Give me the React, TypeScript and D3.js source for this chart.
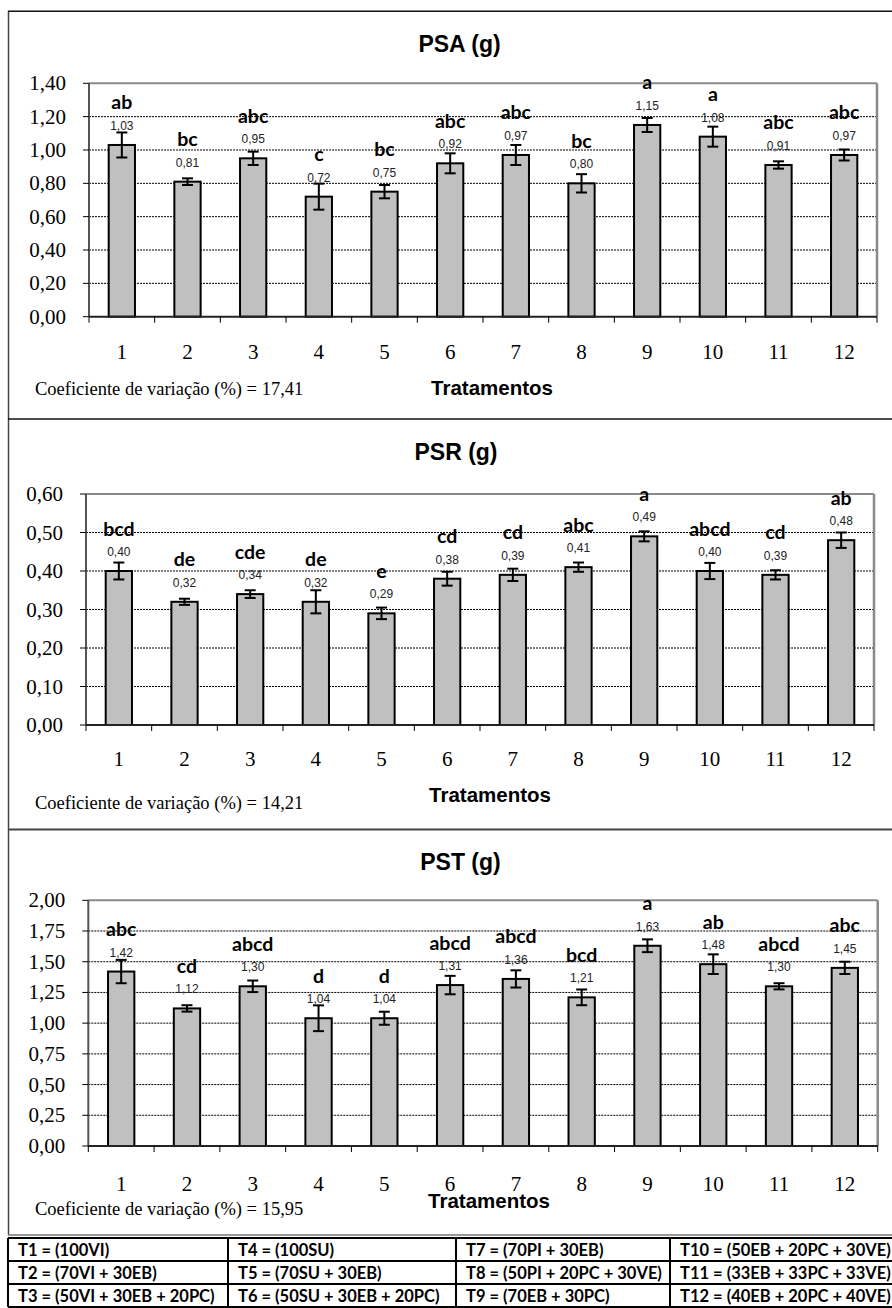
import React from "react";
import * as d3 from "d3";

const treatments = ["1", "2", "3", "4", "5", "6", "7", "8", "9", "10", "11", "12"];

const psaValues = [1.03, 0.81, 0.95, 0.72, 0.75, 0.92, 0.97, 0.8, 1.15, 1.08, 0.91, 0.97];
const psaErrors = [0.075, 0.02, 0.04, 0.078, 0.04, 0.06, 0.06, 0.055, 0.042, 0.06, 0.022, 0.033];
const psaLetters = ["ab", "bc", "abc", "c", "bc", "abc", "abc", "bc", "a", "a", "abc", "abc"];

const psrValues = [0.4, 0.32, 0.34, 0.32, 0.29, 0.38, 0.39, 0.41, 0.49, 0.4, 0.39, 0.48];
const psrErrors = [0.022, 0.008, 0.01, 0.03, 0.015, 0.018, 0.016, 0.012, 0.013, 0.021, 0.012, 0.02];
const psrLetters = ["bcd", "de", "cde", "de", "e", "cd", "cd", "abc", "a", "abcd", "cd", "ab"];

const pstValues = [1.42, 1.12, 1.3, 1.04, 1.04, 1.31, 1.36, 1.21, 1.63, 1.48, 1.3, 1.45];
const pstErrors = [0.095, 0.026, 0.047, 0.105, 0.053, 0.075, 0.07, 0.064, 0.052, 0.08, 0.025, 0.05];
const pstLetters = ["abc", "cd", "abcd", "d", "d", "abcd", "abcd", "bcd", "a", "ab", "abcd", "abc"];

const psaTicks = [0, 0.2, 0.4, 0.6, 0.8, 1.0, 1.2, 1.4];
const psrTicks = [0, 0.1, 0.2, 0.3, 0.4, 0.5, 0.6];
const pstTicks = [0, 0.25, 0.5, 0.75, 1.0, 1.25, 1.5, 1.75, 2.0];

const legendCol1 = ["T1 = (100VI)", "T2 = (70VI + 30EB)", "T3 = (50VI + 30EB + 20PC)"];
const legendCol2 = ["T4 = (100SU)", "T5 = (70SU + 30EB)", "T6 = (50SU + 30EB + 20PC)"];
const legendCol3 = ["T7 = (70PI + 30EB)", "T8 = (50PI + 20PC + 30VE)", "T9 = (70EB + 30PC)"];
const legendCol4 = ["T10 = (50EB + 20PC + 30VE)", "T11 = (33EB + 33PC + 33VE)", "T12 = (40EB + 20PC + 40VE)"];

const locale = d3.formatLocale({ decimal: ",", thousands: ".", grouping: [3], currency: ["", ""] });
const fmt2 = locale.format(".2f");

const SERIF = "'Liberation Serif', 'Times New Roman', serif";
const SANS = "'Liberation Sans', Arial, sans-serif";
const CALI = "Lato, 'Open Sans', sans-serif";

type PanelProps = {
  title: string;
  values: number[];
  errors: number[];
  letters: string[];
  ticks: number[];
  cv: string;
  left: number;
  right: number;
  top: number;
  bottom: number;
  titleY: number;
  titleX: number;
  xLabelY: number;
  axisTitleY: number;
  axisTitleX: number;
  cvY: number;
};

function Panel(p: PanelProps) {
  const x = d3.scaleBand<string>().domain(treatments).range([p.left, p.right]).paddingInner(0).paddingOuter(0);
  const yMax = p.ticks[p.ticks.length - 1];
  const y = d3.scaleLinear().domain([0, yMax]).range([p.bottom, p.top]);
  const bw = x.bandwidth() * 0.4;
  const boundaries = d3.range(treatments.length + 1).map((i) => p.left + i * x.bandwidth());
  return (
    <g>
      <text x={p.titleX} y={p.titleY} textAnchor="middle" fontFamily={SANS} fontWeight="bold" fontSize={23}>
        {p.title}
      </text>
      {p.ticks.slice(1, -1).map((t) => (
        <line key={"g" + t} x1={p.left} x2={p.right} y1={y(t)} y2={y(t)} stroke="#000" strokeWidth={1} strokeDasharray="2,1" />
      ))}
      <line x1={p.left} x2={p.right} y1={y(yMax)} y2={y(yMax)} stroke="#8a8a8a" strokeWidth={2} />
      <line x1={p.right} x2={p.right} y1={y(yMax)} y2={p.bottom} stroke="#8a8a8a" strokeWidth={2.5} />
      <line x1={p.left} x2={p.left} y1={y(yMax)} y2={p.bottom} stroke="#555" strokeWidth={2} />
      {p.ticks.map((t) => (
        <g key={"yt" + t}>
          <line x1={p.left - 6} x2={p.left} y1={y(t)} y2={y(t)} stroke="#000" strokeWidth={1} />
          <text x={p.left - 23} y={y(t) + 7} textAnchor="end" fontFamily={SERIF} fontSize={21}>
            {fmt2(t)}
          </text>
        </g>
      ))}
      {treatments.map((c, i) => {
        const cx = (x(c) as number) + x.bandwidth() / 2;
        const v = p.values[i];
        const e = p.errors[i];
        const valY = y(v) - 15;
        return (
          <g key={"b" + c}>
            <rect x={cx - bw / 2} y={y(v)} width={bw} height={p.bottom - y(v)} fill="#c0c0c0" stroke="#000" strokeWidth={2} />
            <line x1={cx} x2={cx} y1={y(v + e)} y2={y(v - e)} stroke="#000" strokeWidth={2} />
            <line x1={cx - 5.5} x2={cx + 5.5} y1={y(v + e)} y2={y(v + e)} stroke="#000" strokeWidth={2} />
            <line x1={cx - 5.5} x2={cx + 5.5} y1={y(v - e)} y2={y(v - e)} stroke="#000" strokeWidth={2} />
            <text x={cx} y={valY} textAnchor="middle" fontFamily={SANS} fontSize={12} fill="#222">
              {fmt2(v)}
            </text>
            <text x={cx} y={valY - 20.5} textAnchor="middle" fontFamily={CALI} fontWeight="bold" fontSize={19.5} fill="#000">
              {p.letters[i]}
            </text>
          </g>
        );
      })}
      <line x1={p.left} x2={p.right} y1={p.bottom} y2={p.bottom} stroke="#222" strokeWidth={2} />
      {boundaries.map((bx, i) => (
        <line key={"xt" + i} x1={bx} x2={bx} y1={p.bottom} y2={p.bottom + 6} stroke="#000" strokeWidth={1} />
      ))}
      {treatments.map((c) => (
        <text key={"xl" + c} x={(x(c) as number) + x.bandwidth() / 2} y={p.xLabelY} textAnchor="middle" fontFamily={SERIF} fontSize={21}>
          {c}
        </text>
      ))}
      <text x={p.axisTitleX} y={p.axisTitleY} textAnchor="middle" fontFamily={SANS} fontWeight="bold" fontSize={20.5}>
        Tratamentos
      </text>
      <text x={35} y={p.cvY} fontFamily={SERIF} fontSize={18.5}>
        {p.cv}
      </text>
    </g>
  );
}

export default function App() {
  const cols = [legendCol1, legendCol2, legendCol3, legendCol4];
  const colX = [8, 228, 456, 670, 900];
  const rowY = [1238, 1261, 1284, 1307];
  return (
    <div style={{ position: "absolute", left: 0, top: 0 }}>
      <svg width={892} height={1308} style={{ display: "block", background: "#fff" }}>
        <rect x={0} y={0} width={892} height={1308} fill="#fff" />
        <line x1={8.5} x2={8.5} y1={11} y2={1235} stroke="#444" strokeWidth={1.5} />
        <line x1={8} x2={900} y1={11.3} y2={11.3} stroke="#111" strokeWidth={1.5} />
        <line x1={8} x2={900} y1={419} y2={419} stroke="#111" strokeWidth={1.5} />
        <line x1={8} x2={900} y1={829.5} y2={829.5} stroke="#444" strokeWidth={2} />
        <line x1={8} x2={900} y1={1235} y2={1235} stroke="#777" strokeWidth={1.5} />

        <Panel
          title="PSA (g)"
          values={psaValues}
          errors={psaErrors}
          letters={psaLetters}
          ticks={psaTicks}
          cv="Coeficiente de variação (%) = 17,41"
          left={89}
          right={877}
          top={83.3}
          bottom={316.7}
          titleY={52}
          titleX={459.5}
          xLabelY={359}
          axisTitleY={395}
          axisTitleX={492}
          cvY={395}
        />
        <Panel
          title="PSR (g)"
          values={psrValues}
          errors={psrErrors}
          letters={psrLetters}
          ticks={psrTicks}
          cv="Coeficiente de variação (%) = 14,21"
          left={86}
          right={874}
          top={494}
          bottom={725}
          titleY={460}
          titleX={456}
          xLabelY={766}
          axisTitleY={802}
          axisTitleX={490}
          cvY={809}
        />
        <Panel
          title="PST (g)"
          values={pstValues}
          errors={pstErrors}
          letters={pstLetters}
          ticks={pstTicks}
          cv="Coeficiente de variação (%) = 15,95"
          left={88.3}
          right={877.7}
          top={900.3}
          bottom={1146}
          titleY={870}
          titleX={460.5}
          xLabelY={1190.5}
          axisTitleY={1207.5}
          axisTitleX={489}
          cvY={1215}
        />

        {rowY.map((ry, i) => (
          <line key={"rl" + i} x1={8} x2={900} y1={ry} y2={ry} stroke="#000" strokeWidth={2} />
        ))}
        {colX.map((cx, i) => (
          <line key={"cl" + i} x1={cx} x2={cx} y1={rowY[0]} y2={rowY[3]} stroke="#000" strokeWidth={2} />
        ))}
        {cols.map((col, ci) =>
          col.map((t, ri) => (
            <text key={"lt" + ci + ri} x={colX[ci] + 10} y={rowY[ri] + 17.5} fontFamily={CALI} fontWeight="bold" fontSize={16.5}>
              {t}
            </text>
          ))
        )}
      </svg>
    </div>
  );
}
